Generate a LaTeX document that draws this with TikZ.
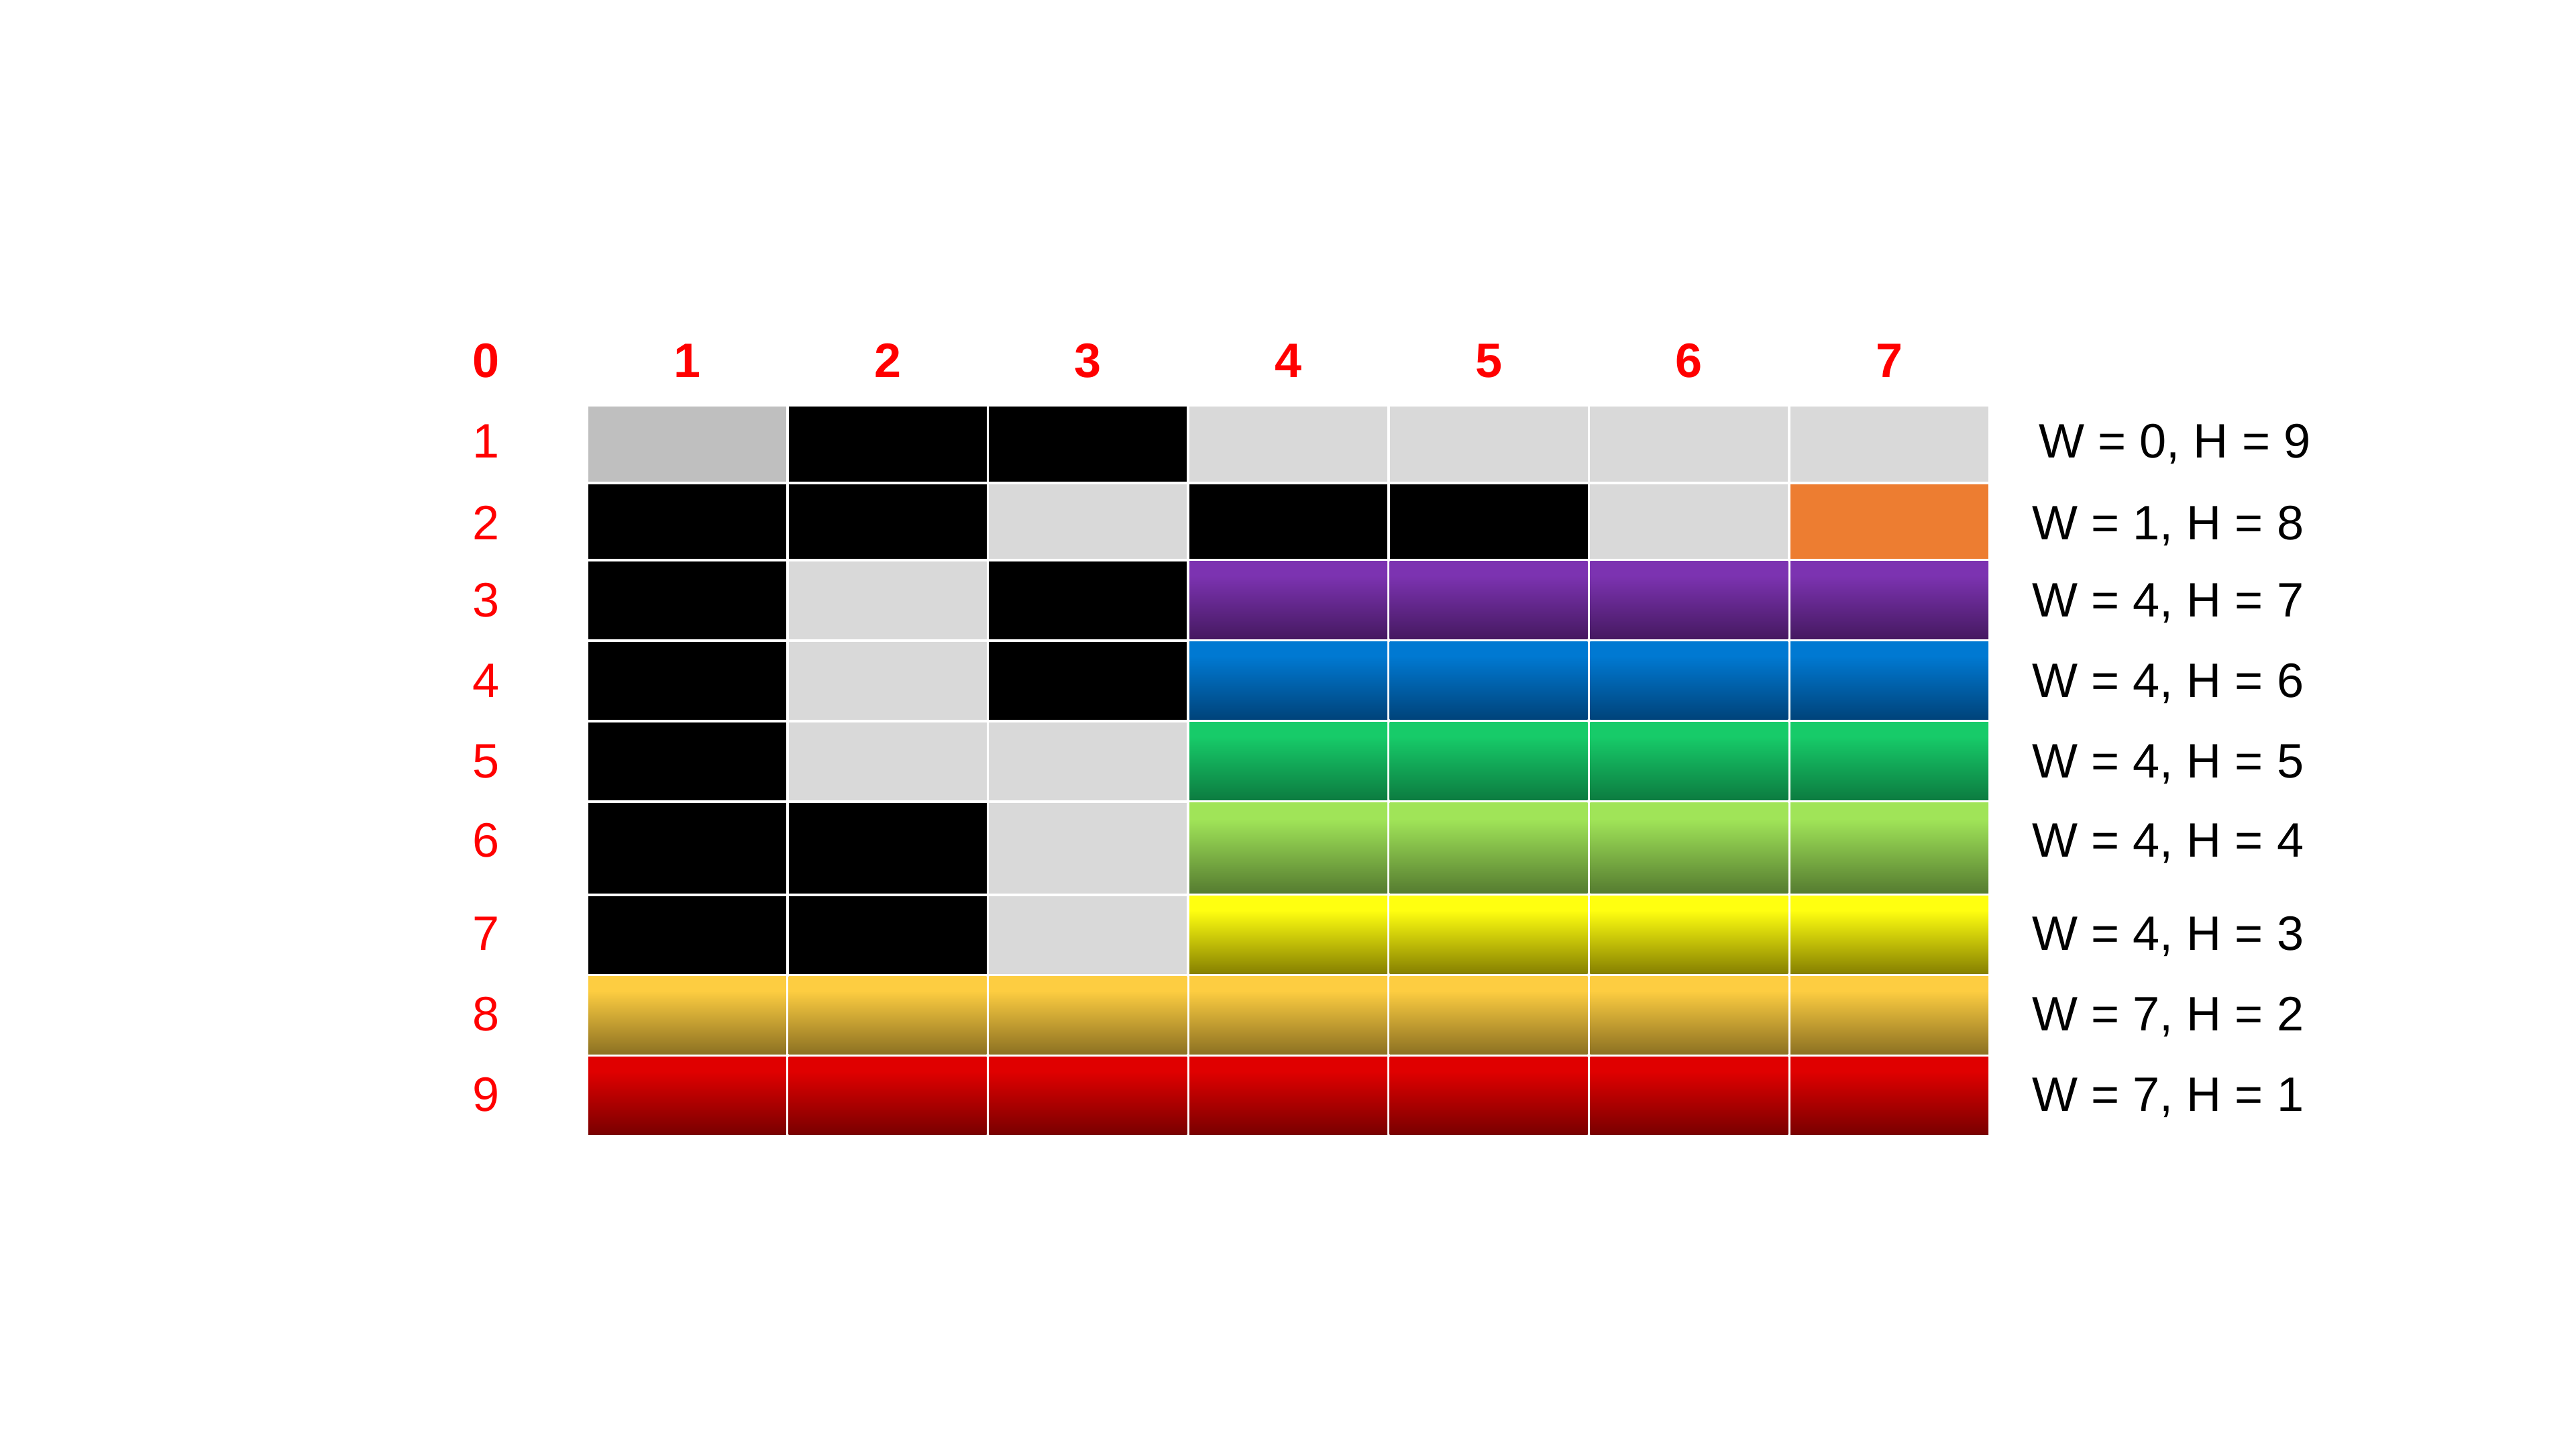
\documentclass[tikz,border=0pt]{standalone}
\usepackage{fontspec}
\setmainfont{Liberation Sans}
\usepackage{tikz}

\definecolor{labred}{HTML}{FF0000}
\definecolor{pale}{HTML}{BFBFBF}
\definecolor{cgray}{HTML}{D9D9D9}
\definecolor{corange}{HTML}{ED7D31}
\definecolor{purtop}{HTML}{7C33B1}
\definecolor{purbot}{HTML}{451960}
\definecolor{blutop}{HTML}{0079D2}
\definecolor{blubot}{HTML}{00437A}
\definecolor{grntop}{HTML}{17CB69}
\definecolor{grnbot}{HTML}{0C7B40}
\definecolor{limtop}{HTML}{A0E458}
\definecolor{limbot}{HTML}{557B30}
\definecolor{yeltop}{HTML}{FFFF10}
\definecolor{yelbot}{HTML}{857F00}
\definecolor{goldtop}{HTML}{FDCD41}
\definecolor{goldbot}{HTML}{8B7022}
\definecolor{redtop}{HTML}{E00000}
\definecolor{redbot}{HTML}{780000}

\colorlet{rtop}{white}
\colorlet{rbot}{black}
\pgfdeclareverticalshading[rtop,rbot]{cellramp}{100bp}{color(0bp)=(rbot); color(25bp)=(rbot); color(66bp)=(rtop); color(100bp)=(rtop)}

\begin{document}
\begin{tikzpicture}[every node/.style={inner sep=0pt,font=\fontsize{20.5}{25}\selectfont},
  cell/.style={rectangle,draw=none,minimum width=2.95cm,fill=#1},
  ramp/.style 2 args={rectangle,draw=none,minimum width=2.95cm,
    /utils/exec={\colorlet{rtop}{#1}\colorlet{rbot}{#2}},shading=cellramp},
  hdr/.style={anchor=base,text=labred,font=\fontsize{20.5}{25}\selectfont\bfseries},
  rowlbl/.style={anchor=base,text=labred},
  wh/.style={anchor=base west}]
  \useasboundingbox (0,0) rectangle (38.4,21.6);

  % plain cells
  \foreach \r/\y/\h/\cols in {1/14.98/1.12/{pale,black,black,cgray,cgray,cgray,cgray},
      2/13.825/1.11/{black,black,cgray,black,black,cgray,corange},
      3/12.65/1.16/{black,cgray,black},
      4/11.45/1.16/{black,cgray,black},
      5/10.25/1.16/{black,cgray,cgray},
      6/8.955/1.35/{black,black,cgray},
      7/7.66/1.16/{black,black,cgray}}
    \foreach \s [count=\c] in \cols
      \node[cell=\s,minimum height=\h cm] (c\r\c) at (7.258+2.9867*\c,\y) {};

  % shaded cells
  \foreach \r/\y/\h/\a/\b/\first in {3/12.65/1.16/purtop/purbot/4,
      4/11.45/1.16/blutop/blubot/4,
      5/10.25/1.16/grntop/grnbot/4,
      6/8.955/1.35/limtop/limbot/4,
      7/7.66/1.16/yeltop/yelbot/4,
      8/6.46/1.16/goldtop/goldbot/1,
      9/5.26/1.16/redtop/redbot/1}
    \foreach \c in {\first,...,7}
      \node[ramp={\a}{\b},minimum height=\h cm] (c\r\c) at (7.258+2.9867*\c,\y) {};

  % column numbers
  \node[hdr] (h0) at (7.25,15.97) {0};
  \foreach \c in {1,...,7}
    \node[hdr] (h\c) at (7.258+2.9867*\c,15.97) {\c};

  % row numbers and sizes
  \foreach \r/\y/\x/\txt in {1/14.77/30.39/{W = 0, H = 9},
      2/13.55/30.29/{W = 1, H = 8},
      3/12.40/30.29/{W = 4, H = 7},
      4/11.20/30.29/{W = 4, H = 6},
      5/10.00/30.29/{W = 4, H = 5},
      6/8.82/30.29/{W = 4, H = 4},
      7/7.43/30.29/{W = 4, H = 3},
      8/6.23/30.29/{W = 7, H = 2},
      9/5.03/30.29/{W = 7, H = 1}}
  {
    \node[rowlbl] (r\r) at (7.25,\y) {\r};
    \node[wh] (w\r) at (\x,\y) {\txt};
  }
\end{tikzpicture}
\end{document}
